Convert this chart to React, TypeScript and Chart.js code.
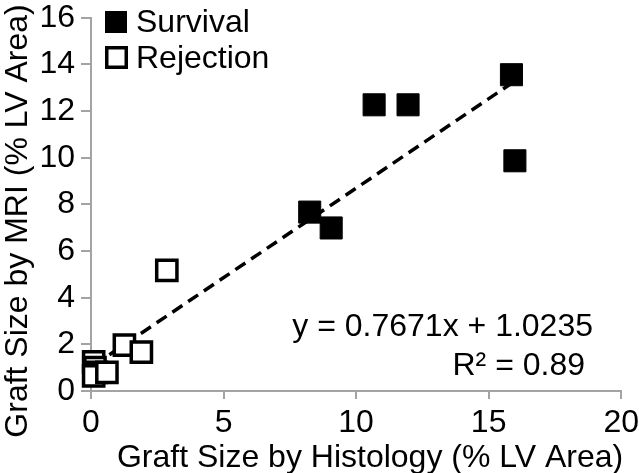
import React, { useEffect, useRef } from 'react';
import { Chart, registerables } from 'chart.js';

Chart.register(...registerables);

const FAMILY = '"Liberation Sans", Arial, Helvetica, sans-serif';

const survivalX = [15.86, 15.99, 10.68, 11.96, 8.25, 9.06];
const survivalY = [13.56, 9.87, 12.27, 12.27, 7.67, 6.99];
const rejectionX = [2.86, 1.26, 1.9, 0.1, 0.15, 0.2, 0.1, 0.6];
const rejectionY = [5.17, 1.97, 1.67, 1.25, 1.0, 0.8, 0.65, 0.8];
const slope = 0.7671;
const intercept = 1.0235;
const rSquared = 0.89;
const xTicks = [0, 5, 10, 15, 20];
const yTicks = [0, 2, 4, 6, 8, 10, 12, 14, 16];
const seriesNames = ['Survival', 'Rejection'];
const xTitle = 'Graft Size by Histology (% LV Area)';
const yTitle = 'Graft Size by MRI (% LV Area)';

const AXIS = '#a3a3a3';

const textPlugin = {
  id: 'customTexts',
  afterDraw(chart: any) {
    const { ctx, chartArea } = chart;
    ctx.save();
    ctx.fillStyle = '#000';
    ctx.font = `32px ${FAMILY}`;
    ctx.textBaseline = 'alphabetic';
    // x title
    ctx.textAlign = 'right';
    ctx.fillText(xTitle, chartArea.right + 2, 467);
    // y title
    ctx.save();
    ctx.translate(27, 221);
    ctx.rotate(-Math.PI / 2);
    ctx.textAlign = 'center';
    ctx.fillText(yTitle, 0, 0);
    ctx.restore();
    // regression annotation
    ctx.textAlign = 'right';
    ctx.fillText(`y = ${slope}x + ${intercept}`, 593, 336);
    ctx.fillText(`R\u00B2 = ${rSquared.toFixed(2)}`, 585, 375);
    // legend
    ctx.textAlign = 'left';
    ctx.fillRect(105, 11, 22, 22);
    ctx.fillText(seriesNames[0], 136, 32);
    ctx.strokeStyle = '#000';
    ctx.lineWidth = 3.5;
    ctx.fillStyle = '#fff';
    ctx.fillRect(106.75, 47.75, 19.5, 19.5);
    ctx.strokeRect(106.75, 47.75, 19.5, 19.5);
    ctx.fillStyle = '#000';
    ctx.fillText(seriesNames[1], 136, 68);
    ctx.restore();
  },
};

export default function App() {
  const ref = useRef<HTMLCanvasElement | null>(null);

  useEffect(() => {
    if (!ref.current) return;
    const allX = [...survivalX, ...rejectionX];
    const minX = Math.min(...allX);
    const maxX = Math.max(...allX);
    const chart = new Chart(ref.current, {
      type: 'scatter',
      data: {
        datasets: [
          {
            label: seriesNames[0],
            data: survivalX.map((x, i) => ({ x, y: survivalY[i] })),
            pointStyle: 'rect',
            pointRadius: 15.6,
            pointHoverRadius: 15.6,
            backgroundColor: '#000',
            borderColor: '#000',
            borderWidth: 1,
            order: 1,
            clip: false,
          } as any,
          {
            label: seriesNames[1],
            data: rejectionX.map((x, i) => ({ x, y: rejectionY[i] })),
            pointStyle: 'rect',
            pointRadius: 14.3,
            pointHoverRadius: 14.3,
            backgroundColor: '#fff',
            borderColor: '#000',
            borderWidth: 3.5,
            order: 2,
            clip: false,
          } as any,
          {
            label: 'Trend',
            data: [
              { x: minX, y: slope * minX + intercept },
              { x: maxX, y: slope * maxX + intercept },
            ],
            showLine: true,
            pointRadius: 0,
            borderColor: '#000',
            borderWidth: 3.5,
            borderDash: [12, 7],
            order: 3,
          } as any,
        ],
      },
      options: {
        responsive: false,
        animation: false,
        events: [],
        layout: { padding: { left: 0, top: 13, right: 17, bottom: 0 } },
        plugins: {
          legend: { display: false },
          tooltip: { enabled: false },
        },
        scales: {
          x: {
            type: 'linear',
            min: 0,
            max: 20,
            afterBuildTicks: (s: any) => {
              s.ticks = xTicks.map((v) => ({ value: v }));
            },
            afterFit: (s: any) => {
              s.height = 82;
              s.paddingLeft = 0;
              s.paddingRight = 0;
              s.paddingTop = 0;
              s.paddingBottom = 0;
            },
            grid: {
              display: true,
              drawOnChartArea: false,
              drawTicks: true,
              tickLength: 8,
              color: AXIS,
              lineWidth: 2,
            },
            border: { display: true, color: AXIS, width: 2 },
            ticks: {
              color: '#000',
              font: { size: 32, family: FAMILY },
              padding: 5,
              maxRotation: 0,
              autoSkip: false,
            },
          },
          y: {
            type: 'linear',
            min: 0,
            max: 16,
            afterBuildTicks: (s: any) => {
              s.ticks = yTicks.map((v) => ({ value: v }));
            },
            afterFit: (s: any) => {
              s.width = 91;
              s.paddingLeft = 0;
              s.paddingRight = 0;
              s.paddingTop = 0;
              s.paddingBottom = 0;
            },
            grid: {
              display: true,
              drawOnChartArea: false,
              drawTicks: true,
              tickLength: 10,
              color: AXIS,
              lineWidth: 2,
            },
            border: { display: true, color: AXIS, width: 2 },
            ticks: {
              color: '#000',
              font: { size: 32, family: FAMILY },
              padding: 6,
              autoSkip: false,
            },
          },
        },
      },
      plugins: [textPlugin],
    } as any);
    return () => chart.destroy();
  }, []);

  return (
    <div style={{ position: 'fixed', left: 0, top: 0, width: 639, height: 473, background: '#fff' }}>
      <canvas ref={ref} width={639} height={473} style={{ width: 639, height: 473, display: 'block' }} />
    </div>
  );
}
